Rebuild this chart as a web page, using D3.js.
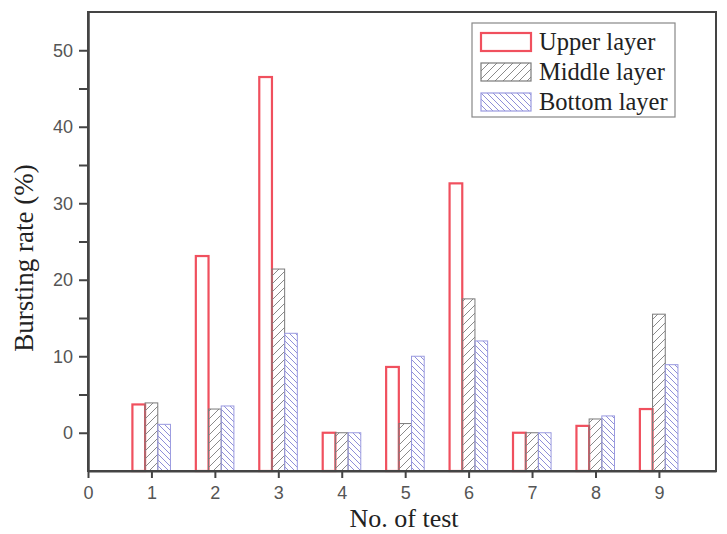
<!DOCTYPE html>
<html>
<head>
<meta charset="utf-8">
<script src="https://cdn.jsdelivr.net/npm/d3@7"></script>
<style>
  body { margin: 0; background: #fff; }
  .tick text { font-family: "Liberation Sans", Arial, sans-serif; fill: #555; }
</style>
</head>
<body>
<div id="chart"></div>
<script>
// data
var tests = [1, 2, 3, 4, 5, 6, 7, 8, 9];
var upperLayer = [3.7, 23.1, 46.5, 0, 8.6, 32.6, 0, 0.9, 3.1];
var middleLayer = [3.9, 3.1, 21.4, 0, 1.2, 17.5, 0, 1.8, 15.5];
var bottomLayer = [1.1, 3.5, 13.0, 0, 10.0, 12.0, 0, 2.2, 8.9];
var seriesNames = ["Upper layer", "Middle layer", "Bottom layer"];
var xTicks = [0, 1, 2, 3, 4, 5, 6, 7, 8, 9];
var yTicks = [0, 10, 20, 30, 40, 50];

var svgWidth = 727, svgHeight = 534;
var margin = { top: 12, right: 11, bottom: 63, left: 88 };
var width = svgWidth - margin.left - margin.right;
var height = svgHeight - margin.top - margin.bottom;

var svg = d3.select("#chart").append("svg")
  .attr("width", svgWidth)
  .attr("height", svgHeight);

// hatch patterns
var defs = svg.append("defs");
defs.append("pattern")
  .attr("id", "hatchMiddle")
  .attr("patternUnits", "userSpaceOnUse")
  .attr("width", 8).attr("height", 8)
  .append("path")
  .attr("d", "M-2,2 l4,-4 M0,8 l8,-8 M6,10 l4,-4")
  .attr("stroke", "#8a8a8a")
  .attr("stroke-width", 1);
defs.append("pattern")
  .attr("id", "hatchBottom")
  .attr("patternUnits", "userSpaceOnUse")
  .attr("width", 6).attr("height", 6)
  .append("path")
  .attr("d", "M-2,4 l4,4 M0,0 l6,6 M4,-2 l4,4")
  .attr("stroke", "#8f8fd8")
  .attr("stroke-width", 1);

var styles = [
  { fill: "#fff", stroke: "#f0505e", sw: 2.2 },
  { fill: "url(#hatchMiddle)", stroke: "#7a7a7a", sw: 1 },
  { fill: "url(#hatchBottom)", stroke: "#9a9ae0", sw: 1 }
];

var chartGroup = svg.append("g")
  .attr("transform", `translate(${margin.left}, ${margin.top})`);

var x = d3.scaleLinear().domain([0, 9.9]).range([0, width]);
var y = d3.scaleLinear().domain([-5, 55]).range([height, 0]);

var barW = x(0.2) - x(0);
var series = [upperLayer, middleLayer, bottomLayer];

series.forEach(function (vals, i) {
  chartGroup.selectAll(".bar" + i)
    .data(vals)
    .enter()
    .append("rect")
    .attr("class", "bar" + i)
    .attr("x", (d, j) => x(tests[j] + (i - 1) * 0.2) - barW / 2)
    .attr("y", d => y(d))
    .attr("width", barW)
    .attr("height", d => y(-5) - y(d))
    .attr("fill", styles[i].fill)
    .attr("stroke", styles[i].stroke)
    .attr("stroke-width", styles[i].sw);
});

// axes
var bottomAxis = d3.axisBottom(x).tickValues(xTicks).tickFormat(d3.format("d"))
  .tickSize(7).tickPadding(8).tickSizeOuter(0);
var leftAxis = d3.axisLeft(y).tickValues(yTicks).tickSize(9).tickPadding(6).tickSizeOuter(0);
var leftMinor = d3.axisLeft(y).tickValues([5, 15, 25, 35, 45]).tickSize(9)
  .tickFormat("").tickSizeOuter(0);

var gx = chartGroup.append("g")
  .attr("transform", `translate(0, ${height})`)
  .call(bottomAxis);
var gy = chartGroup.append("g").call(leftAxis);
var gy2 = chartGroup.append("g").call(leftMinor);

[gx, gy, gy2].forEach(function (g) {
  g.selectAll("path, line").attr("stroke", "#444").attr("stroke-width", 2);
  g.selectAll("text").attr("font-size", "18px");
});

// frame top and right
chartGroup.append("rect")
  .attr("x", 0).attr("y", 0)
  .attr("width", width).attr("height", height)
  .attr("fill", "none")
  .attr("stroke", "#444")
  .attr("stroke-width", 2);

// legend
var legend = svg.append("g").attr("transform", "translate(472, 23)");
legend.append("rect")
  .attr("width", 203).attr("height", 94)
  .attr("fill", "#fff")
  .attr("stroke", "#888")
  .attr("stroke-width", 1.2);
seriesNames.forEach(function (name, i) {
  var row = legend.append("g").attr("transform", `translate(9, ${10 + i * 30})`);
  row.append("rect")
    .attr("width", 50).attr("height", 18)
    .attr("fill", styles[i].fill)
    .attr("stroke", styles[i].stroke)
    .attr("stroke-width", i === 0 ? 2.2 : 1.2);
  row.append("text")
    .attr("x", 58).attr("y", 17)
    .attr("font-family", "'Liberation Serif', 'Times New Roman', serif")
    .attr("font-size", "24.5px")
    .attr("fill", "#222")
    .text(name);
});

// axis titles
svg.append("text")
  .attr("transform", "translate(33, 258) rotate(-90)")
  .attr("text-anchor", "middle")
  .attr("font-family", "'Liberation Serif', 'Times New Roman', serif")
  .attr("font-size", "27px")
  .attr("fill", "#222")
  .text("Bursting rate (%)");

svg.append("text")
  .attr("x", 404).attr("y", 527)
  .attr("text-anchor", "middle")
  .attr("font-family", "'Liberation Serif', 'Times New Roman', serif")
  .attr("font-size", "26px")
  .attr("fill", "#222")
  .text("No. of test");
</script>
</body>
</html>
